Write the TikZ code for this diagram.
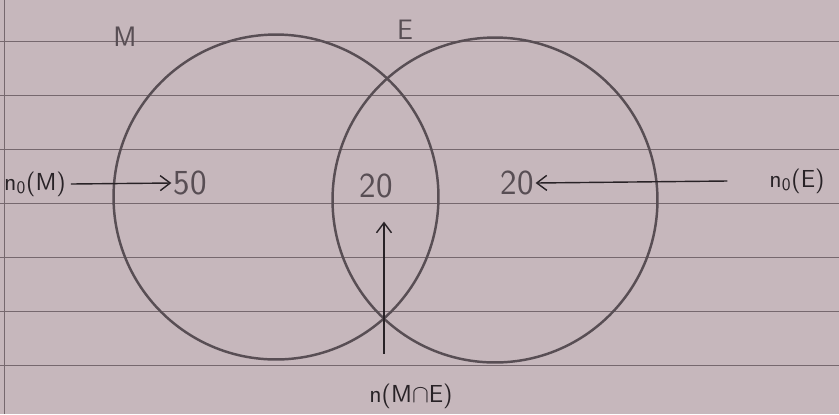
\documentclass[tikz,border=0pt]{standalone}
\usepackage{amsmath,amssymb}
\usepackage{xcolor}
\usepackage{tikz}
\usetikzlibrary{arrows.meta,positioning}

\definecolor{paper}{RGB}{198,183,188}
\definecolor{rule}{RGB}{118,104,110}
\definecolor{ink}{RGB}{88,78,84}
\definecolor{pen}{RGB}{40,34,38}

\begin{document}
\begin{tikzpicture}[
  x=0.02cm, y=-0.02cm,
  set/.style={circle, draw=ink, line width=1.4pt, minimum size=6.5cm, inner sep=0pt},
  count/.style={font=\sffamily\fontsize{20}{20}\selectfont, text=ink, inner sep=1pt},
  tag/.style={font=\sffamily\fontsize{14}{14}\selectfont, text=pen, inner sep=1pt},
  arrow/.style={-{Straight Barb[length=2mm,width=3mm]}, pen, line width=0.8pt}
]
% paper
\fill[paper] (0,0) rectangle (839,414);
\useasboundingbox (0,0) rectangle (839,414);
\foreach \yy in {41,95,149,203,257,311,365}
  \draw[rule, line width=0.5pt] (0,\yy) -- (839,\yy);
\draw[rule, line width=0.5pt] (4,0) -- (4,414);

% the two sets
\node[set] (M) at (276,197) {};
\node[set] (E) at (495,200) {};
\node[tag, font=\sffamily\fontsize{16}{16}\selectfont, text=ink] (Mlab) at (125,37) {M};
\node[tag, font=\sffamily\fontsize{16}{16}\selectfont, text=ink] (Elab) at (405,30) {E};

% counts
\node[count] (onlyM) at (190,183) {50};
\node[count] (both) at (376,186) {20};
\node[count] (onlyE) at (517,183) {20};

% labels
\node[tag] (nM) at (35,184) {n$_{\mathsf{0}}$(M)};
\node[tag] (nE) at (797,181) {n$_{\mathsf{0}}$(E)};
\node[tag] (nME) at (411,396) {n(M$\cap$E)};

\draw[arrow] (nM.east) ++(3,0) -- (onlyM.west);
\draw[arrow] (nE.west) ++(-40,0) -- (onlyE.east);
\draw[arrow] (nME.north -| both.south) ++(8,-28) -- ++(0,-132);
\end{tikzpicture}
\end{document}
